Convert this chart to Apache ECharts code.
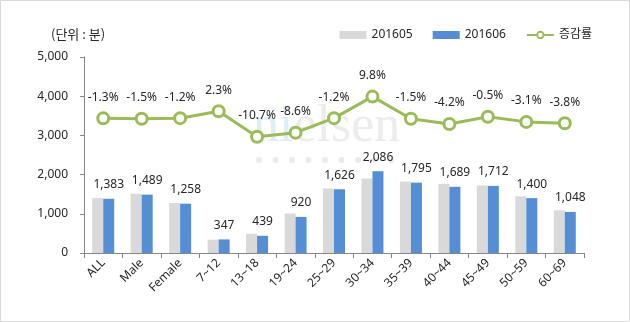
<!DOCTYPE html>
<html>
<head>
<meta charset="utf-8">
<script src="https://cdn.jsdelivr.net/npm/echarts@6/dist/echarts.min.js"></script>
<style>
html,body{margin:0;padding:0;background:#fff;}
#c{width:630px;height:322px;}
</style>
</head>
<body>
<div id="c"></div>
<script>
const categories = ['ALL','Male','Female','7~12','13~18','19~24','25~29','30~34','35~39','40~44','45~49','50~59','60~69'];
const may = [1401,1512,1273,339,492,1007,1646,1900,1822,1763,1721,1445,1089];
const june = [1383,1489,1258,347,439,920,1626,2086,1795,1689,1712,1400,1048];
const change = [-1.3,-1.5,-1.2,2.3,-10.7,-8.6,-1.2,9.8,-1.5,-4.2,-0.5,-3.1,-3.8];
const yTicks = [0,1000,2000,3000,4000,5000];
const seriesNames = ['201605','201606','증감률'];
const unitLabel = '(단위 : 분)';

const FONT = "'Noto Sans','Noto Sans CJK KR',sans-serif";
const chart = echarts.init(document.getElementById('c'));

const dots = [];
for (let i = 0; i < 9; i++) {
  dots.push({type:'circle', shape:{cx:259 + i*16.5, cy:160, r:3}, style:{fill:'#ebebeb'}, z:0, silent:true});
}

chart.setOption({
  backgroundColor:'#fff',
  animation:false,
  textStyle:{fontFamily:FONT},
  graphic:[
    {type:'rect', shape:{x:0.5,y:0.5,width:629,height:321}, style:{fill:'none',stroke:'#d9d9d9',lineWidth:1}, z:0, silent:true},
    {type:'text', left:51, top:28, style:{text:unitLabel, font:"13px 'Noto Sans CJK KR'", fill:'#262626'}, z:10},
    {type:'text', left:253, top:101, z:0, silent:true,
      style:{text:'{a|ni}{b|elsen}', font:"52px 'Liberation Serif'",
        rich:{a:{fill:'#dceef7',font:"52px 'Liberation Serif'"}, b:{fill:'#ececec',font:"52px 'Liberation Serif'"}}}},
    ...dots
  ],
  legend:{
    right:33, top:24, itemGap:20, itemWidth:27, itemHeight:8,
    textStyle:{fontFamily:FONT, fontSize:12, color:'#262626'},
    data:[
      {name:seriesNames[0], icon:'rect'},
      {name:seriesNames[1], icon:'rect'},
      {name:seriesNames[2]}
    ]
  },
  grid:{left:84, right:46, top:57, bottom:69},
  xAxis:{
    type:'category', data:categories,
    axisLine:{lineStyle:{color:'#868686',width:1}},
    axisTick:{show:true, alignWithLabel:false, interval:0, length:5, lineStyle:{color:'#868686'}},
    axisLabel:{interval:0, rotate:45, fontSize:12, color:'#262626', margin:8, fontFamily:FONT}
  },
  yAxis:[
    {type:'value', min:0, max:5000, interval:1000,
      axisLine:{show:true, lineStyle:{color:'#868686'}},
      axisTick:{show:true, length:4, lineStyle:{color:'#868686'}},
      splitLine:{show:false},
      axisLabel:{fontSize:12, color:'#262626', margin:16, fontFamily:FONT,
        formatter:v=>v.toLocaleString('en-US')}},
    {type:'value', min:-70, max:30, show:false, splitLine:{show:false}}
  ],
  series:[
    {name:seriesNames[0], type:'bar', data:may, barWidth:11, barGap:'0%',
      itemStyle:{color:'#d9d9d9'}, z:2},
    {name:seriesNames[1], type:'bar', data:june, barWidth:11, barGap:'0%',
      itemStyle:{color:'#558ed5'}, z:2,
      label:{show:true, position:'top', distance:8, fontSize:12, color:'#262626', fontFamily:FONT,
        formatter:p=>p.value.toLocaleString('en-US')}},
    {name:seriesNames[2], type:'line', yAxisIndex:1, data:change,
      symbol:'circle', symbolSize:11,
      lineStyle:{color:'#9bbb59', width:3},
      itemStyle:{color:'#ffffff', borderColor:'#9bbb59', borderWidth:3},
      label:{show:true, position:'top', distance:8, fontSize:12, color:'#262626', fontFamily:FONT,
        formatter:p=>p.value.toFixed(1)+'%'}, z:5}
  ]
});
</script>
</body>
</html>
